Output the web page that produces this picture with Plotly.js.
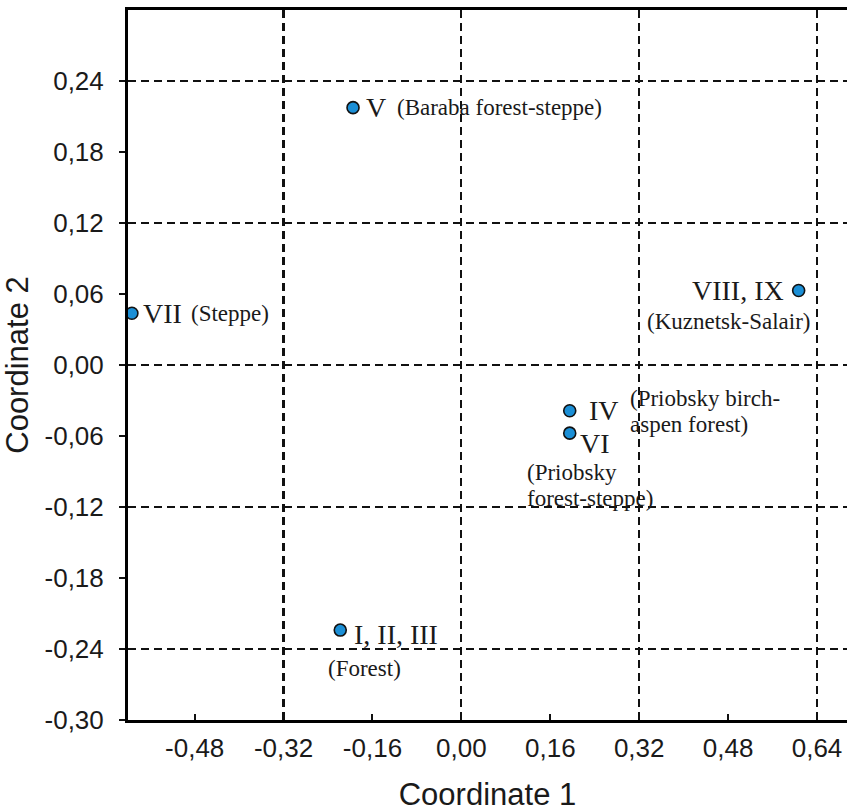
<!DOCTYPE html>
<html>
<head>
<meta charset="utf-8">
<script src="https://cdn.plot.ly/plotly-3.0.1.min.js"></script>
<style>html,body{margin:0;padding:0;background:#fff;}#chart{width:847px;height:812px;}</style>
</head>
<body>
<div id="chart"></div>
<script>
// Data
const groupNames = ["V", "VII", "VIII, IX", "IV", "VI", "I, II, III"];
const coord1 = [-0.195, -0.593, 0.607, 0.195, 0.195, -0.218];
const coord2 = [0.2175, 0.0437, 0.063, -0.0387, -0.0576, -0.224];
const regionNames = [
  ["(Baraba forest-steppe)"],
  ["(Steppe)"],
  ["(Kuznetsk-Salair)"],
  ["(Priobsky birch-", "aspen forest)"],
  ["(Priobsky", "forest-steppe)"],
  ["(Forest)"]
];

const xTicks = [-0.48, -0.32, -0.16, 0.00, 0.16, 0.32, 0.48, 0.64];
const xTickText = ["-0,48", "-0,32", "-0,16", "0,00", "0,16", "0,32", "0,48", "0,64"];
const yTicks = [-0.30, -0.24, -0.18, -0.12, -0.06, 0.00, 0.06, 0.12, 0.18, 0.24];
const yTickText = ["-0,30", "-0,24", "-0,18", "-0,12", "-0,06", "0,00", "0,06", "0,12", "0,18", "0,24"];
const xGrid = [-0.32, 0.00, 0.32, 0.64];
const yGrid = [-0.24, -0.12, 0.00, 0.12, 0.24];

const xRange = [-0.6, 0.694];
const yRange = [-0.30, 0.30];

const serif = "Liberation Serif, Times New Roman, serif";
const sans = "Liberation Sans, Arial, sans-serif";
const ink = "#1a1a1a";

const traces = [
  {
    x: coord1, y: coord2, type: "scatter", mode: "markers",
    marker: {size: 12, color: "#1b8fd6", line: {color: "#111", width: 1.6}},
    hoverinfo: "skip", cliponaxis: false, xaxis: "x", yaxis: "y"
  },
  {
    x: coord1, y: coord2, type: "scatter", mode: "markers",
    marker: {size: 1, opacity: 0}, hoverinfo: "skip", showlegend: false,
    xaxis: "x2", yaxis: "y2"
  }
];

// label placement (style only)
// numeral: [xanchor, xshift, yshift]
const numeralStyle = [
  ["left", 11, 0],
  ["left", 9, 0],
  ["right", -13, 0],
  ["left", 17, 0],
  ["left", 8, -10],
  ["left", 12, -4]
];
// region: [xanchor, xshift, yshift of first line, line step]
const regionStyle = [
  ["left", 42, 0, 26],
  ["left", 57, 0, 26],
  ["right", 14, -31, 26],
  ["left", 58, 12, 26],
  ["left", -45, -39, 26],
  ["left", -14, -38, 26]
];

const annotations = [];
for (let i = 0; i < groupNames.length; i++) {
  const n = numeralStyle[i], r = regionStyle[i];
  annotations.push({
    x: coord1[i], y: coord2[i], xref: "x", yref: "y", text: groupNames[i],
    showarrow: false, xanchor: n[0], yanchor: "middle", xshift: n[1], yshift: n[2],
    font: {family: serif, size: 28, color: ink}
  });
  regionNames[i].forEach((line, k) => {
    annotations.push({
      x: coord1[i], y: coord2[i], xref: "x", yref: "y", text: line,
      showarrow: false, xanchor: r[0], yanchor: "middle",
      xshift: r[1], yshift: r[2] - k * r[3],
      font: {family: serif, size: 23, color: ink}
    });
  });
}

const layout = {
  width: 847, height: 812,
  margin: {l: 128, r: 0, t: 10, b: 92, pad: 0},
  paper_bgcolor: "#fff", plot_bgcolor: "#fff",
  showlegend: false,
  font: {family: sans, color: ink},
  xaxis: {
    range: xRange, tickmode: "array", tickvals: xTicks, ticktext: xTickText,
    showgrid: false, zeroline: false,
    showline: true, linecolor: "#000", linewidth: 3, mirror: true,
    ticks: "inside", ticklen: 6, tickwidth: 2, tickcolor: "#111",
    tickfont: {family: sans, size: 26, color: ink}, ticklabelstandoff: 3,
    title: {text: "Coordinate 1", font: {family: sans, size: 31, color: ink}, standoff: 22}
  },
  yaxis: {
    range: yRange, tickmode: "array", tickvals: yTicks, ticktext: yTickText,
    showgrid: false, zeroline: false,
    showline: true, linecolor: "#000", linewidth: 3, mirror: false,
    ticks: "outside", ticklen: 6, tickwidth: 2, tickcolor: "#111",
    tickfont: {family: sans, size: 26, color: ink}, ticklabelstandoff: 10,
    title: {text: "Coordinate 2", font: {family: sans, size: 31, color: ink}, standoff: 14}
  },
  xaxis2: {
    overlaying: "x", range: xRange, tickmode: "array", tickvals: xGrid,
    showgrid: true, gridcolor: "#111", gridwidth: 2.2, griddash: "8px,5px",
    showticklabels: false, ticks: "", zeroline: false, showline: false
  },
  yaxis2: {
    overlaying: "y", range: yRange, tickmode: "array", tickvals: yGrid,
    showgrid: true, gridcolor: "#111", gridwidth: 2.2, griddash: "8px,5px",
    showticklabels: false, ticks: "", zeroline: false, showline: false
  },
  annotations: annotations
};

Plotly.newPlot("chart", traces, layout, {displayModeBar: false, staticPlot: true});
</script>
</body>
</html>
